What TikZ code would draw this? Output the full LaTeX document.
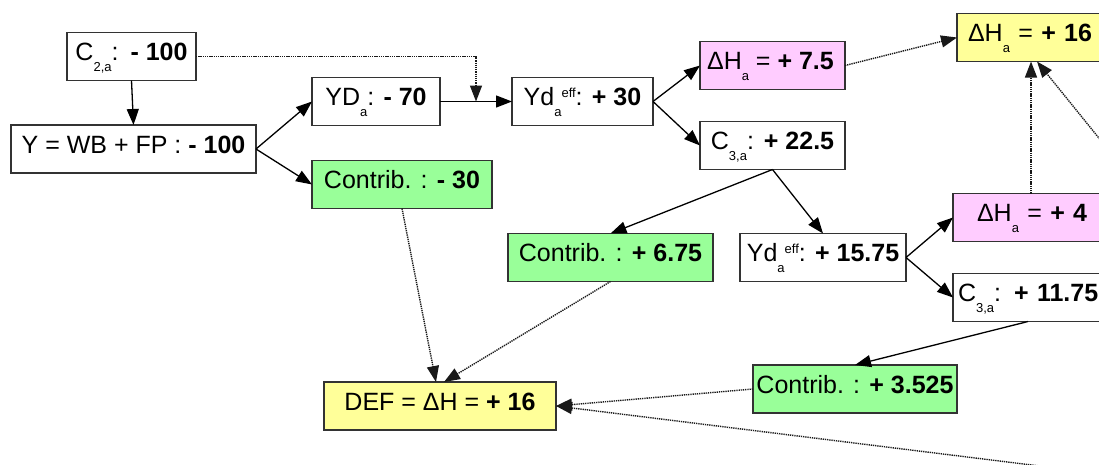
\documentclass[tikz,border=0pt]{standalone}
\usepackage{fontspec}
\setmainfont{Liberation Sans}
\usetikzlibrary{arrows.meta,calc}
\definecolor{cgreen}{HTML}{99FF99}
\definecolor{cpink}{HTML}{FFCCFF}
\definecolor{cyellow}{HTML}{FFFF99}
\definecolor{cborder}{HTML}{333333}
\newcommand{\lsub}[1]{\raisebox{-11pt}{\fontsize{13}{13}\selectfont #1}}
\newcommand{\lsup}[1]{\raisebox{8.5pt}{\fontsize{13}{13}\selectfont #1}}
\tikzset{
  box/.style={draw=cborder, line width=1.4pt, fill=white, minimum height=48pt,
    inner sep=0pt, outer sep=0pt, text height=18pt, text depth=10pt,
    font=\fontsize{25}{30}\selectfont},
  gbox/.style={box, fill=cgreen},
  pbox/.style={box, fill=cpink},
  ybox/.style={box, fill=cyellow},
  cutbox/.style={anchor=west, align=left},
  arr/.style={-{Triangle[length=16pt,width=12pt]}, line width=1.3pt, draw=black},
  dots/.style={-{Triangle[length=16pt,width=12pt]}, line width=1.4pt, draw=black!90,
    dash pattern=on 1.3pt off 0.9pt}
}
\begin{document}
\begin{tikzpicture}[x=1pt,y=-1pt]
\useasboundingbox (0,0) rectangle (1099,464);
\clip (0,0) rectangle (1099,464);

\node[box, minimum width=129pt] (c2) at (131.5,56.5) {C\lsub{2,a}:\hspace{12pt}\textbf{- 100}};
\node[box, minimum width=245pt] (y) at (133.5,149) {Y = WB + FP : \textbf{- 100}};
\node[box, minimum width=128pt] (yd) at (376,101.5) {YD\lsub{a}: \textbf{- 70}};
\node[gbox, minimum width=180pt] (ct1) at (402,184.5) {Contrib. : \textbf{- 30}};
\node[box, minimum width=141pt] (yde) at (582.5,101.5) {Yd\lsub{a}\lsup{eff}: \textbf{+ 30}};
\node[pbox, minimum width=145pt] (dh1) at (772.5,65.5) {$\!$ΔH\lsub{a} = \textbf{+ 7.5}};
\node[box, minimum width=145pt] (c3) at (772.5,145.5) {C\lsub{3,a}:\hspace{10pt}\textbf{+ 22.5}};
\node[ybox, cutbox, inner xsep=11pt, text width=126pt] (dh16) at (957,37.5) {\mbox{ΔH\lsub{a} = \textbf{+ 16}}};
\node[gbox, minimum width=205pt] (ct2) at (610.5,257.5) {Contrib. : \textbf{+ 6.75}};
\node[box, minimum width=166pt] (yde2) at (823,257.5) {Yd\lsub{a}\lsup{eff}: \textbf{+ 15.75}};
\node[pbox, cutbox, inner xsep=24pt, text width=108pt] (dh4) at (953,217.5) {\mbox{ΔH\lsub{a} = \textbf{+ 4}}};
\node[box, cutbox, inner xsep=5pt, text width=140pt] (c3b) at (953,297.5) {\mbox{C\lsub{3,a}:\hspace{13pt}\textbf{+ 11.75}}};
\node[gbox, minimum width=204pt] (ct3) at (855,389) {Contrib. : \textbf{+ 3.525}};
\node[ybox, minimum width=232pt] (def) at (440,406) {DEF = ΔH = \textbf{+ 16}};

\coordinate (j) at (476,101.5);
\coordinate (offr) at (1115,158);
\coordinate (offb) at (1110,474.7);

\draw[arr] (c2.south) -- (y.north);
\draw[arr] (y.east) -- (yd.west);
\draw[arr] (y.east) -- (ct1.west);
\draw[arr] (yd.east) -- (yde.west);
\draw[dots] (c2.east) -| (j);
\draw[arr] (yde.east) -- (dh1.west);
\draw[arr] (yde.east) -- (c3.west);
\draw[dots] (dh1.east) -- (dh16.west);
\draw[arr] (c3.south) -- (ct2.north);
\draw[arr] (c3.south) -- (yde2.north);
\draw[arr] (yde2.east) -- (dh4.west);
\draw[arr] (yde2.east) -- (c3b.west);
\draw[dots] (dh4.north) -- (dh16.south);
\draw[dots] (offr) -- ($(dh16.south)+(6,0)$);
\draw[arr] (c3b.south) -- (ct3.north);
\draw[dots] (ct1.south) -- ($(def.north)+(-4,0)$);
\draw[dots] (ct2.south) -- ($(def.north)+(4,0)$);
\draw[dots] (ct3.west) -- (def.east);
\draw[dots] (offb) -- (def.east);
\end{tikzpicture}
\end{document}
